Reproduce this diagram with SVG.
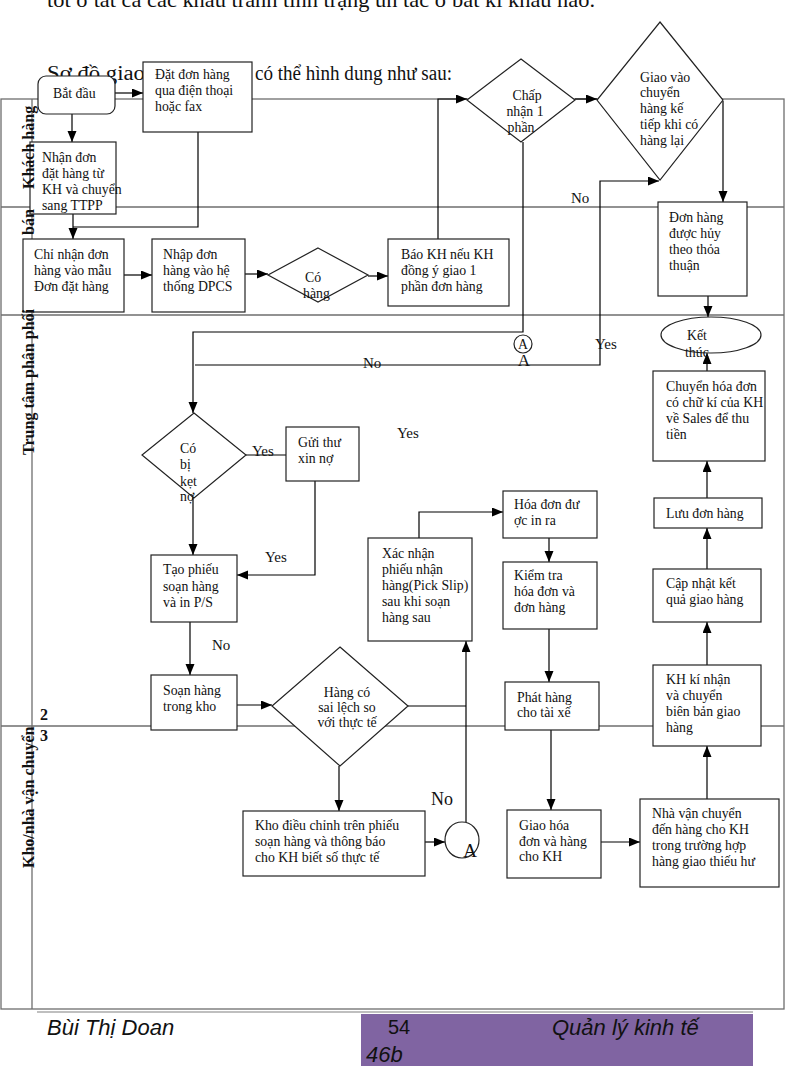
<svg xmlns="http://www.w3.org/2000/svg" width="788" height="1080" viewBox="0 0 788 1080">
<defs>
<marker id="ah" markerUnits="userSpaceOnUse" markerWidth="12" markerHeight="10" refX="11" refY="4.5" orient="auto">
<path d="M0,0 L11,4.5 L0,9 z" fill="#000"/>
</marker>
<style>
.t{font-family:"Liberation Serif","Times New Roman",serif;font-size:13.8px;fill:#111}
.lbl{font-family:"Liberation Serif","Times New Roman",serif;font-size:15px;fill:#111}
.lane{font-family:"Liberation Serif","Times New Roman",serif;font-size:16px;font-weight:bold;fill:#111}
.body{font-family:"Liberation Serif","Times New Roman",serif;font-size:20px;fill:#111}
.n{fill:#fff;stroke:#222;stroke-width:1.2}
.ln{fill:none;stroke:#6e6e6e;stroke-width:1.3}
.c{fill:none;stroke:#000;stroke-width:1.2}
.ca{fill:none;stroke:#000;stroke-width:1.2;marker-end:url(#ah)}
.ft{font-family:"Liberation Sans",Arial,sans-serif;font-size:22px;fill:#111}
</style>
</defs>
<rect width="788" height="1080" fill="#fff"/>

<text class="body" x="47" y="7" style="font-size:21px" textLength="548" lengthAdjust="spacingAndGlyphs">tốt ở tất cả các khâu tránh tình trạng ùn tắc ở bất kì khâu nào.</text>
<text class="body" x="47" y="80" textLength="98" lengthAdjust="spacingAndGlyphs">Sơ đồ giao</text>
<text class="body" x="255" y="80" textLength="197" lengthAdjust="spacingAndGlyphs">có thể hình dung như sau:</text>

<g id="lanes">
<rect class="ln" x="1" y="99" width="783" height="910"/>
<line class="ln" x1="32" y1="99" x2="32" y2="1009"/>
<line class="ln" x1="1" y1="207" x2="784" y2="207"/>
<line class="ln" x1="1" y1="315" x2="784" y2="315"/>
<line class="ln" x1="1" y1="726" x2="784" y2="726"/>
</g>

<g id="connectors">
<path class="ca" d="M115,93 H143"/>
<path class="ca" d="M72,114 V142"/>
<path class="ca" d="M73,214 V239"/>
<path class="c" d="M198,132 V227 H73"/>
<path class="ca" d="M124,275 H152"/>
<path class="ca" d="M245,274 H268"/>
<path class="ca" d="M368,276 H388"/>
<path class="ca" d="M438,239 V99 H467"/>
<path class="ca" d="M575,99 H597"/>
<path class="ca" d="M723,101 V202"/>
<path class="ca" d="M708,296 V317"/>
<path class="ca" d="M523,142 V332 H193 V413"/>
<path class="ca" d="M195,365 H600 V181 H659"/>
<path class="c" d="M246,455 H286"/>
<path class="ca" d="M193,498 V555"/>
<path class="ca" d="M315,481 V575 H237"/>
<path class="ca" d="M190,622 V675"/>
<path class="ca" d="M237,705 H272"/>
<path class="ca" d="M339,766 V811"/>
<path class="c" d="M408,706 H466"/>
<path class="ca" d="M425,842 H445"/>
<path class="ca" d="M466,822 V641"/>
<path class="ca" d="M419,538 V512 H503"/>
<path class="ca" d="M549,538 V562"/>
<path class="ca" d="M549,629 V682"/>
<path class="ca" d="M551,730 V810"/>
<path class="ca" d="M601,842 H640"/>
<path class="ca" d="M707,799 V746"/>
<path class="ca" d="M707,665 V622"/>
<path class="ca" d="M707,569 V528"/>
<path class="ca" d="M707,498 V461"/>
<path class="ca" d="M707,371 V353"/>
<text class="lbl" x="571" y="203">No</text>
<text class="lbl" x="363" y="368">No</text>
<text class="lbl" x="595" y="349">Yes</text>
<text class="lbl" x="397" y="438">Yes</text>
<text class="lbl" x="252" y="456">Yes</text>
<text class="lbl" x="265" y="562">Yes</text>
<text class="lbl" x="212" y="650">No</text>
<text class="lbl" x="431" y="805" style="font-size:18px">No</text>
</g>

<g id="start">
<rect class="n" x="38" y="76" width="77" height="38" rx="8"/>
<text class="t" x="53" y="98">Bắt đầu</text>
</g>
<g id="dat-don">
<rect class="n" x="143" y="62" width="109" height="70"/>
<text class="t" x="155" y="79">Đặt đơn hàng</text>
<text class="t" x="155" y="95">qua điện thoại</text>
<text class="t" x="155" y="111">hoặc fax</text>
</g>
<g id="nhan-don">
<rect class="n" x="30" y="142" width="86" height="72"/>
<text class="t" x="42" y="162">Nhận đơn</text>
<text class="t" x="42" y="178">đặt hàng từ</text>
<text class="t" x="42" y="194">KH và chuyển</text>
<text class="t" x="42" y="210">sang TTPP</text>
</g>
<g id="chi-nhan">
<rect class="n" x="23" y="239" width="101" height="73"/>
<text class="t" x="34" y="259">Chỉ nhận đơn</text>
<text class="t" x="34" y="275">hàng vào mẫu</text>
<text class="t" x="34" y="291">Đơn đặt hàng</text>
</g>
<g id="nhap-don">
<rect class="n" x="152" y="239" width="93" height="73"/>
<text class="t" x="163" y="259">Nhập đơn</text>
<text class="t" x="163" y="275">hàng vào hệ</text>
<text class="t" x="163" y="291">thống DPCS</text>
</g>
<g id="co-hang">
<polygon class="n" points="318,248 368,275 318,302 268,275"/>
<text class="t" x="305" y="282">Có</text>
<text class="t" x="303" y="298">hàng</text>
</g>
<g id="bao-kh">
<rect class="n" x="388" y="239" width="121" height="67"/>
<text class="t" x="401" y="259">Báo KH nếu KH</text>
<text class="t" x="401" y="275">đồng ý giao 1</text>
<text class="t" x="401" y="291">phần đơn hàng</text>
</g>
<g id="chap-nhan">
<polygon class="n" points="521,59 575,100 521,142 467,100"/>
<text class="t" x="527" y="100" text-anchor="middle">Chấp</text>
<text class="t" x="525" y="116" text-anchor="middle">nhận 1</text>
<text class="t" x="521" y="132" text-anchor="middle">phần</text>
</g>
<g id="giao-vao">
<polygon class="n" points="660,22 723,100 660,180 597,100"/>
<text class="t" x="640" y="82">Giao vào</text>
<text class="t" x="640" y="97">chuyển</text>
<text class="t" x="640" y="113">hàng kế</text>
<text class="t" x="640" y="129">tiếp khi  có</text>
<text class="t" x="640" y="145">hàng lại</text>
</g>
<g id="don-huy">
<rect class="n" x="658" y="202" width="89" height="94"/>
<text class="t" x="669" y="222">Đơn hàng</text>
<text class="t" x="669" y="238">được hủy</text>
<text class="t" x="669" y="254">theo thỏa</text>
<text class="t" x="669" y="270">thuận</text>
</g>
<g id="ket-thuc">
<ellipse class="n" cx="711" cy="335" rx="50" ry="18"/>
<text class="t" x="687" y="340">Kết</text>
<text class="t" x="685" y="357">thúc</text>
</g>
<g id="connector-a-top">
<circle class="n" cx="523" cy="344" r="9"/>
<text class="t" x="523" y="349" text-anchor="middle">A</text>
<text class="lbl" x="524" y="366" text-anchor="middle" style="font-size:17px">A</text>
</g>
<g id="ket-no">
<polygon class="n" points="194,413 246,455 194,498 142,455"/>
<text class="t" x="180" y="453">Có</text>
<text class="t" x="180" y="469">bị</text>
<text class="t" x="180" y="486">kẹt</text>
<text class="t" x="180" y="501">nợ</text>
</g>
<g id="gui-thu">
<rect class="n" x="286" y="427" width="73" height="54"/>
<text class="t" x="298" y="447">Gửi thư</text>
<text class="t" x="298" y="463">xin nợ</text>
</g>
<g id="tao-phieu">
<rect class="n" x="151" y="555" width="86" height="67"/>
<text class="t" x="163" y="574">Tạo phiếu</text>
<text class="t" x="163" y="591">soạn hàng</text>
<text class="t" x="163" y="607">và  in P/S</text>
</g>
<g id="soan-hang">
<rect class="n" x="151" y="675" width="86" height="55"/>
<text class="t" x="163" y="695">Soạn hàng</text>
<text class="t" x="163" y="711">trong kho</text>
</g>
<g id="sai-lech">
<polygon class="n" points="340,647 408,706 340,766 272,706"/>
<text class="t" x="347" y="697" text-anchor="middle">Hàng có</text>
<text class="t" x="347" y="712" text-anchor="middle">sai lệch so</text>
<text class="t" x="347" y="727" text-anchor="middle">với thực tế</text>
</g>
<g id="kho-dieu-chinh">
<rect class="n" x="243" y="811" width="182" height="65"/>
<text class="t" x="255" y="830">Kho điều chỉnh trên phiếu</text>
<text class="t" x="255" y="846">soạn hàng và thông báo</text>
<text class="t" x="255" y="862">cho KH biết số thực tế</text>
</g>
<g id="connector-a">
<ellipse class="n" cx="462" cy="840" rx="17" ry="18"/>
<text class="lbl" x="470" y="857" text-anchor="middle" style="font-size:19px">A</text>
</g>
<g id="xac-nhan">
<rect class="n" x="368" y="538" width="104" height="103"/>
<text class="t" x="382" y="558">Xác nhận</text>
<text class="t" x="382" y="574">phiếu nhận</text>
<text class="t" x="382" y="590">hàng(Pick Slip)</text>
<text class="t" x="382" y="606">sau khi soạn</text>
<text class="t" x="382" y="622">hàng sau</text>
</g>
<g id="hoa-don">
<rect class="n" x="503" y="491" width="94" height="47"/>
<text class="t" x="514" y="509">Hóa đơn đư</text>
<text class="t" x="514" y="525">ợc in ra</text>
</g>
<g id="kiem-tra">
<rect class="n" x="503" y="562" width="94" height="67"/>
<text class="t" x="514" y="580">Kiểm tra</text>
<text class="t" x="514" y="596">hóa đơn và</text>
<text class="t" x="514" y="612">đơn hàng</text>
</g>
<g id="phat-hang">
<rect class="n" x="505" y="682" width="94" height="48"/>
<text class="t" x="517" y="702">Phát hàng</text>
<text class="t" x="517" y="717">cho tài xế</text>
</g>
<g id="giao-hoa-don">
<rect class="n" x="507" y="810" width="94" height="68"/>
<text class="t" x="519" y="830">Giao hóa</text>
<text class="t" x="519" y="846">đơn và hàng</text>
<text class="t" x="519" y="861">cho KH</text>
</g>
<g id="nha-van-chuyen">
<rect class="n" x="640" y="799" width="139" height="88"/>
<text class="t" x="652" y="818">Nhà vận chuyển</text>
<text class="t" x="652" y="834">đến hàng cho KH</text>
<text class="t" x="652" y="850">trong trường hợp</text>
<text class="t" x="652" y="866">hàng giao thiếu hư</text>
</g>
<g id="kh-ki-nhan">
<rect class="n" x="653" y="665" width="108" height="81"/>
<text class="t" x="666" y="684">KH kí nhận</text>
<text class="t" x="666" y="700">và chuyển</text>
<text class="t" x="666" y="716">biên bản giao</text>
<text class="t" x="666" y="732">hàng</text>
</g>
<g id="cap-nhat">
<rect class="n" x="653" y="569" width="108" height="53"/>
<text class="t" x="666" y="588">Cập nhật kết</text>
<text class="t" x="666" y="604">quả giao hàng</text>
</g>
<g id="luu-don">
<rect class="n" x="654" y="498" width="108" height="30"/>
<text class="t" x="666" y="518">Lưu đơn hàng</text>
</g>
<g id="chuyen-hoa-don">
<rect class="n" x="653" y="371" width="112" height="90"/>
<text class="t" x="666" y="391">Chuyển hóa đơn</text>
<text class="t" x="666" y="407">có chữ kí của KH</text>
<text class="t" x="666" y="423">về Sales để thu</text>
<text class="t" x="666" y="439">tiền</text>
</g>

<g id="lane-labels">
<text class="lane" transform="translate(34,189) rotate(-90)">Khách hàng</text>
<text class="lane" transform="translate(34,235) rotate(-90)">bán</text>
<text class="lane" transform="translate(34,455) rotate(-90)">Trung tâm phân phối</text>
<text class="lane" transform="translate(34,868) rotate(-90)">Kho/nhà vận chuyển</text>
<text class="lane" x="40" y="720">2</text>
<text class="lane" x="40" y="741">3</text>
</g>

<g id="footer">
<line x1="37" y1="1012" x2="753" y2="1012" stroke="#aaa" stroke-width="1.5"/>
<rect x="361" y="1014" width="392" height="52" fill="#8064a2"/>
<text class="ft" x="47" y="1035" font-style="italic">Bùi Thị Doan</text>
<text class="ft" x="388" y="1034" style="font-size:20px">54</text>
<text class="ft" x="366" y="1062" font-style="italic">46b</text>
<text class="ft" x="552" y="1035" font-style="italic">Quản lý kinh tế</text>
</g>
</svg>
